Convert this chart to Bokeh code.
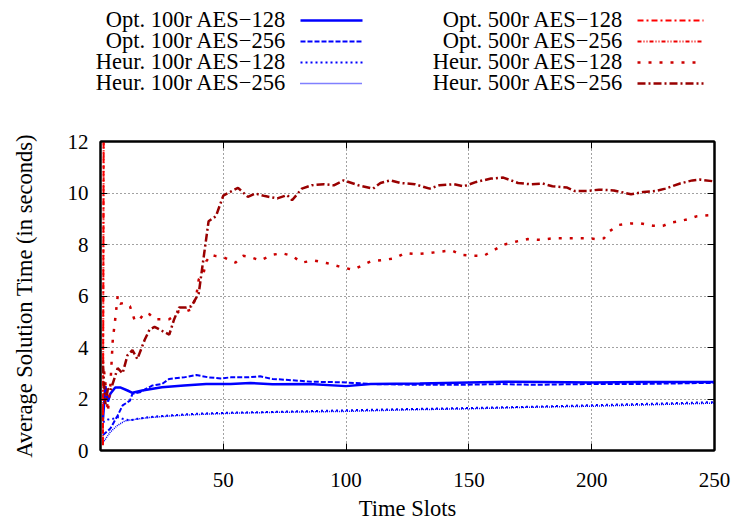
from bokeh.plotting import figure
from bokeh.models import Range1d, FixedTicker, LinearAxis
from bokeh.layouts import column
from bokeh.core.properties import value
from bokeh.embed import file_html
from bokeh.resources import INLINE

FONT = "Liberation Serif"

# ---------------- data ----------------
o100_128_x = [1, 2, 3, 4, 6, 8, 11, 13, 17, 25, 34, 43, 53, 61, 70, 85, 100, 110, 130, 150, 165, 180, 200, 220, 250]
o100_128_y = [1.2, 2.5, 1.9, 2.2, 2.45, 2.45, 2.33, 2.24, 2.33, 2.46, 2.52, 2.58, 2.58, 2.62, 2.57, 2.58, 2.5, 2.58, 2.6, 2.64, 2.67, 2.66, 2.64, 2.66, 2.66]

o100_256_x = [1, 4, 7, 9, 12, 13, 16, 21, 25, 28, 34, 39, 44, 49, 53, 60, 65, 70, 75, 86, 98, 111, 129, 147, 163, 176, 197, 217, 244, 250]
o100_256_y = [0.6, 0.85, 1.36, 1.75, 1.94, 2.2, 2.26, 2.52, 2.58, 2.78, 2.84, 2.93, 2.84, 2.8, 2.84, 2.84, 2.88, 2.78, 2.75, 2.67, 2.65, 2.58, 2.55, 2.55, 2.58, 2.55, 2.58, 2.58, 2.62, 2.62]

h100_128_x = [1, 3, 5, 7, 9, 12, 15, 20, 28, 39, 53, 66, 80, 100, 120, 150, 175, 200, 225, 250]
h100_128_y = [1.1, 1.2, 1.23, 1.3, 1.23, 1.17, 1.23, 1.3, 1.36, 1.43, 1.47, 1.49, 1.52, 1.56, 1.6, 1.65, 1.7, 1.76, 1.82, 1.88]

h100_256_x = [1, 4, 7, 10, 15, 20, 30, 40, 55, 70, 100, 125, 150, 175, 200, 225, 250]
h100_256_y = [0.3, 0.72, 0.98, 1.15, 1.22, 1.28, 1.35, 1.4, 1.45, 1.48, 1.52, 1.58, 1.62, 1.68, 1.72, 1.78, 1.84]

o500_128_x = [1, 2, 3]
o500_128_y = [0.3, 45.0, 60.0]

o500_256_x = [1, 2, 3]
o500_256_y = [0.2, 40.0, 55.0]

h500_128_x = [1, 2, 3, 4, 5, 6, 7, 8, 10, 12, 14, 16, 18, 20, 22, 25, 28, 30, 32, 35, 37, 39, 40, 42, 43, 45, 47, 50,
              55, 58, 61, 65, 70, 74, 78, 82, 87, 92, 97, 101, 103, 107, 110, 116, 120, 124, 129, 134, 139, 143, 147,
              152, 156, 160, 164, 169, 174, 179, 184, 189, 193, 199, 202, 205, 207, 211, 216, 220, 225, 229, 232, 235,
              239, 243, 250]
h500_128_y = [3.5, 2.6, 1.5, 2.5, 4.3, 5.1, 6.0, 5.7, 5.74, 5.6, 5.03, 5.1, 5.35, 5.29, 5.1, 5.1, 5.1, 5.22, 5.41, 5.41,
              5.48, 6.0, 6.64, 6.9, 7.34, 7.6, 7.55, 7.51, 7.3, 7.56, 7.51, 7.38, 7.6, 7.66, 7.56, 7.3, 7.38, 7.28, 7.15,
              7.06, 7.02, 7.21, 7.34, 7.41, 7.47, 7.67, 7.63, 7.67, 7.73, 7.77, 7.6, 7.56, 7.56, 7.77, 7.99, 8.11, 8.21,
              8.18, 8.24, 8.24, 8.24, 8.24, 8.21, 8.24, 8.5, 8.76, 8.82, 8.82, 8.73, 8.72, 8.85, 8.89, 8.98, 9.1, 9.15]

h500_256_x = [1, 2, 3, 4, 7, 9, 11, 13, 15, 18, 20, 22, 25, 28, 30, 32, 35, 37, 40, 42, 44, 47, 50, 53, 56, 60, 63, 67,
              72, 76, 78, 82, 86, 91, 95, 99, 105, 111, 114, 118, 122, 128, 134, 138, 144, 148, 153, 159, 164, 170, 175,
              180, 184, 190, 193, 198, 203, 209, 216, 221, 226, 230, 236, 241, 244, 250]
h500_256_y = [3.3, 1.8, 2.4, 2.3, 3.2, 3.0, 3.7, 3.9, 3.55, 4.3, 4.7, 4.8, 4.65, 4.5, 5.1, 5.55, 5.55, 5.6, 6.1, 7.5, 8.9,
              9.1, 9.9, 10.05, 10.2, 9.85, 9.98, 9.88, 9.79, 9.92, 9.72, 10.17, 10.3, 10.34, 10.3, 10.49, 10.3, 10.17,
              10.39, 10.49, 10.39, 10.34, 10.17, 10.3, 10.34, 10.26, 10.43, 10.56, 10.6, 10.39, 10.34, 10.37, 10.26,
              10.21, 10.08, 10.08, 10.13, 10.1, 9.95, 10.04, 10.08, 10.17, 10.37, 10.49, 10.52, 10.45]

x_ticks = [50, 100, 150, 200, 250]
y_ticks = [0, 2, 4, 6, 8, 10, 12]

series_names = ["Opt. 100r AES\u2212128", "Opt. 100r AES\u2212256", "Heur. 100r AES\u2212128", "Heur. 100r AES\u2212256",
                "Opt. 500r AES\u2212128", "Opt. 500r AES\u2212256", "Heur. 500r AES\u2212128", "Heur. 500r AES\u2212256"]

series = [
    (o100_128_x, o100_128_y), (o100_256_x, o100_256_y), (h100_128_x, h100_128_y), (h100_256_x, h100_256_y),
    (o500_128_x, o500_128_y), (o500_256_x, o500_256_y), (h500_128_x, h500_128_y), (h500_256_x, h500_256_y),
]

styles = [
    dict(color="#0000ff", width=2.5, dash="solid"),
    dict(color="#0000ff", width=2.0, dash="5 2"),
    dict(color="#0000ff", width=2.0, dash="2 3"),
    dict(color="#0000ff", width=1.5, dash="1 1"),
    dict(color="#ff0000", width=2.0, dash="6 3 2 3"),
    dict(color="#ee0000", width=2.0, dash="4 2 1 2 1 2"),
    dict(color="#cc0000", width=2.5, dash="3 8"),
    dict(color="#990000", width=2.5, dash="8 3 2 3"),
]

W = 737
LEG_H = 100
MAIN_H = 423

# ---------------- legend figure ----------------
leg = figure(width=W, height=LEG_H, output_backend="svg", toolbar_location=None,
             x_range=Range1d(0, W), y_range=Range1d(LEG_H, 0),
             min_border=0, outline_line_color=None)
leg.axis.visible = False
leg.grid.visible = False

row_y = [19, 40, 61, 82]
text_x = [286, 623]
line_x0 = [300, 637]
line_x1 = [362, 703]
for i, name in enumerate(series_names):
    c = i // 4
    r = i % 4
    leg.text(x=[text_x[c]], y=[row_y[r]], text=[name], text_align="right", text_baseline="middle",
             text_font=value(FONT), text_font_size="22.5px", text_color="black")
    st = styles[i]
    leg.line(x=[line_x0[c], line_x1[c]], y=[row_y[r] + 1, row_y[r] + 1], line_color=st["color"],
             line_width=st["width"], line_dash=st["dash"])

# ---------------- main figure ----------------
p = figure(width=W, height=MAIN_H, output_backend="svg", toolbar_location=None,
           x_range=Range1d(0, 250), y_range=Range1d(0, 12),
           min_border_left=100, min_border_right=23, min_border_top=41, min_border_bottom=71)
p.outline_line_color = "black"
p.outline_line_width = 2

for (xs, ys), st in zip(series, styles):
    p.line(x=xs, y=ys, line_color=st["color"], line_width=st["width"], line_dash=st["dash"])

p.xaxis.ticker = FixedTicker(ticks=x_ticks)
p.yaxis.ticker = FixedTicker(ticks=y_ticks)
p.xgrid.ticker = FixedTicker(ticks=x_ticks[:-1])
p.ygrid.ticker = FixedTicker(ticks=y_ticks[1:-1])
for g in (p.xgrid, p.ygrid):
    g.grid_line_color = "#444444"
    g.grid_line_dash = "1 3"
    g.grid_line_width = 1

for ax in (p.xaxis, p.yaxis):
    ax.major_tick_in = 7
    ax.major_tick_out = 0
    ax.minor_tick_in = 0
    ax.minor_tick_out = 0
    ax.axis_line_color = "black"
    ax.axis_line_width = 2
    ax.major_tick_line_color = "black"
    ax.major_label_text_font = FONT
    ax.major_label_text_font_size = "21px"
    ax.major_label_text_color = "black"
    ax.axis_label_text_font = FONT
    ax.axis_label_text_font_size = "22.5px"
    ax.axis_label_text_font_style = "normal"
    ax.axis_label_text_color = "black"

p.xaxis.axis_label = "Time Slots"
p.yaxis.axis_label = "Average Solution Time (in seconds)"
p.xaxis.major_label_standoff = 22
p.yaxis.major_label_standoff = 12
p.xaxis.axis_label_standoff = 6
p.yaxis.axis_label_standoff = 28

# mirrored tick marks (top and right), labels not drawn
top_ax = LinearAxis(ticker=FixedTicker(ticks=x_ticks), major_label_text_font_size="1px",
                    major_label_text_color=None,
                    major_tick_in=7, major_tick_out=0, minor_tick_in=0, minor_tick_out=0,
                    axis_line_color="black", axis_line_width=2, major_label_standoff=0)
right_ax = LinearAxis(ticker=FixedTicker(ticks=y_ticks), major_label_text_font_size="1px",
                      major_label_text_color=None,
                      major_tick_in=7, major_tick_out=0, minor_tick_in=0, minor_tick_out=0,
                      axis_line_color="black", axis_line_width=2, major_label_standoff=0)
p.add_layout(top_ax, "above")
p.add_layout(right_ax, "right")

# keep the legend strip's frame independent of the main plot's frame
for fig in (leg, p):
    if "frame_align" in fig.properties():
        fig.frame_align = False

layout = column(leg, p, spacing=0)
open("out.html", "w").write(file_html(layout, INLINE))
